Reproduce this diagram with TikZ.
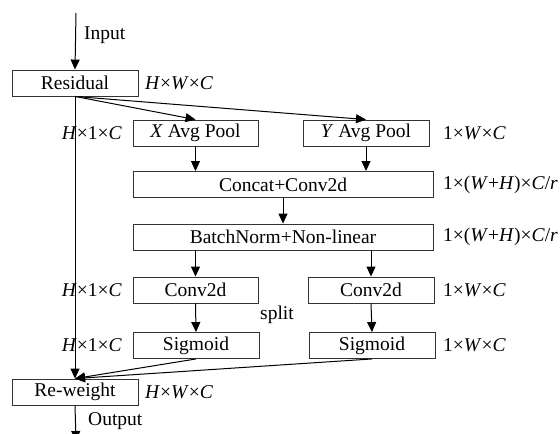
\documentclass[tikz,border=0pt]{standalone}
\usepackage{fontspec}
\setmainfont{Liberation Serif}
\usetikzlibrary{arrows.meta}
\begin{document}
\begin{tikzpicture}[x=1pt,y=-1pt,
  box/.style={draw=black!80,line width=0.9pt,minimum height=26pt,inner sep=0pt,font=\fontsize{19.5}{21}\selectfont},
  lbl/.style={inner sep=0pt,font=\fontsize{19.5}{21}\selectfont},
  arr/.style={line width=1pt,-{Triangle[length=10pt,width=9pt]}}]
\useasboundingbox (0,0) rectangle (560,434);
% boxes
\node[box,minimum width=126pt] (res) at (75,83) {Residual};
\node[box,minimum width=125pt] (xp) at (195.5,133) {\textit{X} Avg Pool};
\node[box,minimum width=126pt] (yp) at (366,133) {\textit{Y} Avg Pool};
\node[box,minimum width=300pt] (cc) at (283,184.5) {Concat+Conv2d};
\node[box,minimum width=300pt] (bn) at (283,237) {BatchNorm+Non-linear};
\node[box,minimum width=125pt] (c1) at (195.5,290) {Conv2d};
\node[box,minimum width=126pt] (c2) at (371,290) {Conv2d};
\node[box,minimum width=126pt] (s1) at (196,345.5) {Sigmoid};
\node[box,minimum width=126pt] (s2) at (372,345.5) {Sigmoid};
\node[box,minimum width=126pt] (rw) at (75,392) {Re-weight};
% labels
\node[lbl,anchor=west] (lin) at (84,35) {Input};
\node[lbl,anchor=west] (lout) at (88,421) {Output};
\node[lbl] (lsplit) at (277,315) {split};
\node[lbl,anchor=west] (l1) at (145,83) {\textit{H}×\textit{W}×\textit{C}};
\node[lbl,anchor=west] (l2) at (145,392) {\textit{H}×\textit{W}×\textit{C}};
\node[lbl,anchor=east] (l3) at (122,133) {\textit{H}×1×\textit{C}};
\node[lbl,anchor=east] (l4) at (122,290) {\textit{H}×1×\textit{C}};
\node[lbl,anchor=east] (l5) at (122,345.5) {\textit{H}×1×\textit{C}};
\node[lbl,anchor=west] (r1) at (443,133) {1×\textit{W}×\textit{C}};
\node[lbl,anchor=west] (r2) at (443,184.5) {1×(\textit{W}+\textit{H})×\textit{C}/\textit{r}};
\node[lbl,anchor=west] (r3) at (443,237) {1×(\textit{W}+\textit{H})×\textit{C}/\textit{r}};
\node[lbl,anchor=west] (r4) at (443,290) {1×\textit{W}×\textit{C}};
\node[lbl,anchor=west] (r5) at (443,345.5) {1×\textit{W}×\textit{C}};
% connectors
\coordinate (inp) at (76,13);
\coordinate (outp) at (76,441);
\draw[arr] (inp) -- (res.north);
\draw[arr] (res.south) -- (xp.north);
\draw[arr] (res.south) -- (yp.north);
\draw[arr] (res.south) -- (rw.north);
\draw[arr] (xp.south) -- (xp.south |- cc.north);
\draw[arr] (yp.south) -- (yp.south |- cc.north);
\draw[arr] (cc.south) -- (bn.north);
\draw[arr] (bn.south -| c1.north) -- (c1.north);
\draw[arr] (bn.south -| c2.north) -- (c2.north);
\draw[arr] (c1.south) -- (s1.north);
\draw[arr] (c2.south) -- (s2.north);
\draw[arr] (s1.south) -- (rw.north);
\draw[arr] (s2.south) -- (rw.north);
\draw[arr] (rw.south) -- (outp);
\end{tikzpicture}
\end{document}
